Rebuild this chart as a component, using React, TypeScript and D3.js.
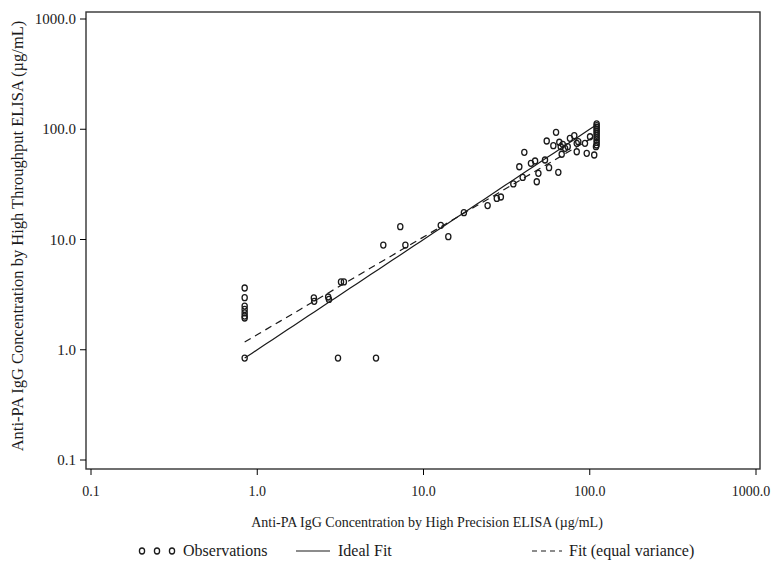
import React from "react";
import * as d3 from "d3";

// Observations: high precision ELISA (x) vs high throughput ELISA (y), µg/mL
const obsX: number[] = [
  0.84, 0.84, 0.84, 0.84, 0.84, 0.84, 0.84, 0.84,
  3.06, 5.18,
  2.19, 2.2, 2.67, 2.7, 3.19, 3.32,
  5.73, 7.25, 7.78, 12.7, 14.1, 17.5, 24.3, 27.6, 29.2,
  34.7, 39.5, 37.7, 40.4, 44.3, 46.9, 53.8, 49.1, 48.0, 56.9, 64.7,
  55.1, 60.4, 62.7, 65.6, 66.9, 68.8, 71.0, 67.8, 73.7, 76.0, 80.7,
  83.5, 85.3, 83.5, 93.6, 95.9, 100.4, 106.4, 109,
  110, 110, 110, 110, 110, 110, 110, 110, 110, 110, 110,
];
const obsY: number[] = [
  3.63, 2.97, 2.49, 2.32, 2.16, 2.02, 1.94, 0.84,
  0.84, 0.84,
  2.95, 2.75, 3.01, 2.86, 4.12, 4.12,
  8.91, 13.06, 8.91, 13.45, 10.6, 17.5, 20.3, 23.6, 24.3,
  31.9, 36.6, 45.7, 61.8, 49.1, 51.5, 52.6, 39.8, 33.4, 44.8, 40.7,
  78.2, 70.9, 93.8, 76.2, 69.5, 73.0, 67.1, 59.3, 69.5, 82.8, 87.4,
  74.6, 77.1, 62.5, 74.6, 60.5, 85.5, 58.4, 69.5,
  112, 108, 104, 100, 96, 92, 88, 84, 80, 76, 72,
];

// Fitted lines (log10 y = a + b log10 x)
const fitRange: number[] = [0.84, 110];
const idealFit = { a: 0, b: 1 };
const equalVarFit = { a: 0.137, b: 0.886 };

const ticks: number[] = [0.1, 1, 10, 100, 1000];
const tickLabels: string[] = ["0.1", "1.0", "10.0", "100.0", "1000.0"];

const xTitle = "Anti-PA IgG Concentration by High Precision ELISA (\u00b5g/mL)";
const yTitle = "Anti-PA IgG Concentration by High Throughput ELISA (\u00b5g/mL)";
const legendLabels: string[] = ["Observations", "Ideal Fit", "Fit (equal variance)"];

export default function App() {
  const W = 773, H = 564;
  const frame = { l: 86, r: 760, t: 12, b: 469 };
  const x = d3.scaleLog().domain([0.1, 1000]).range([91, 756]);
  const y = d3.scaleLog().domain([0.1, 1000]).range([460, 19]);
  const font = "'Liberation Serif', 'Times New Roman', serif";
  const ink = "#1a1a1a";

  const fitLine = (f: { a: number; b: number }) => {
    const pts = d3.range(0, 51).map((i) => {
      const lx = Math.log10(fitRange[0]) + (i / 50) * (Math.log10(fitRange[1]) - Math.log10(fitRange[0]));
      return [Math.pow(10, lx), Math.pow(10, f.a + f.b * lx)] as [number, number];
    });
    return d3.line<[number, number]>().x((d) => x(d[0])).y((d) => y(d[1]))(pts) || "";
  };

  return (
    <svg width={W} height={H} style={{ position: "absolute", left: 0, top: 0, background: "#fff" }}
      fontFamily={font}>
      <rect x={frame.l} y={frame.t} width={frame.r - frame.l} height={frame.b - frame.t}
        fill="none" stroke="#333" strokeWidth={1.4} />
      {ticks.map((t, i) => (
        <g key={"y" + i}>
          <line x1={frame.l - 6} x2={frame.l} y1={y(t)} y2={y(t)} stroke="#000" strokeWidth={1} />
          <text x={76} y={y(t) + 5} textAnchor="end" fontSize={15} fill={ink}>{tickLabels[i]}</text>
        </g>
      ))}
      {ticks.map((t, i) => (
        <g key={"x" + i}>
          <line x1={x(t)} x2={x(t)} y1={frame.b} y2={frame.b + 6} stroke="#000" strokeWidth={1} />
          <text x={Math.min(x(t), 751)} y={496} textAnchor="middle" fontSize={14} fill={ink}>{tickLabels[i]}</text>
        </g>
      ))}
      <text x={427} y={527} textAnchor="middle" fontSize={14} fill={ink}>{xTitle}</text>
      <text transform={`translate(23,236) rotate(-90)`} textAnchor="middle" fontSize={16.5} fill={ink}>{yTitle}</text>

      <path d={fitLine(idealFit)} fill="none" stroke={ink} strokeWidth={1.2} />
      <path d={fitLine(equalVarFit)} fill="none" stroke={ink} strokeWidth={1.2} strokeDasharray="7,5" />
      {obsX.map((v, i) => (
        <ellipse key={i} cx={x(v)} cy={y(obsY[i])} rx={2.6} ry={3} fill="none" stroke={ink} strokeWidth={1.3} />
      ))}

      {/* legend */}
      <g>
        {[142, 157, 172].map((cx) => (
          <ellipse key={cx} cx={cx} cy={551} rx={2.6} ry={3} fill="none" stroke={ink} strokeWidth={1.3} />
        ))}
        <text x={183} y={556} fontSize={16} fill={ink}>{legendLabels[0]}</text>
        <line x1={296} x2={330} y1={551} y2={551} stroke={ink} strokeWidth={1.2} />
        <text x={338} y={556} fontSize={16} fill={ink}>{legendLabels[1]}</text>
        <line x1={532} x2={562} y1={551} y2={551} stroke={ink} strokeWidth={1.2} strokeDasharray="5,4" />
        <text x={569} y={556} fontSize={16} fill={ink}>{legendLabels[2]}</text>
      </g>
    </svg>
  );
}
